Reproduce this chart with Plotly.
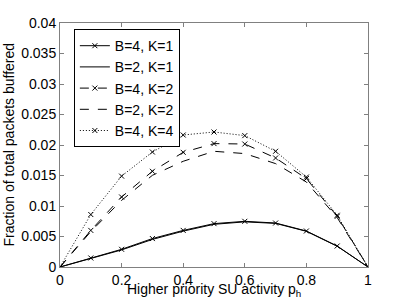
import plotly.graph_objects as go

p_h = [0, 0.1, 0.2, 0.3, 0.4, 0.5, 0.6, 0.7, 0.8, 0.9, 1.0]

b4_k1 = [0, 0.00148, 0.0029, 0.00466, 0.0060, 0.00711, 0.00749, 0.00721, 0.0059, 0.00344, 0]
b2_k1 = [0, 0.00142, 0.0028, 0.00452, 0.00588, 0.00700, 0.00740, 0.00715, 0.00585, 0.0034, 0]
b4_k2 = [0, 0.0060, 0.01148, 0.01569, 0.0188, 0.02023, 0.02016, 0.01787, 0.01449, 0.0083, 0]
b2_k2 = [0, 0.0058, 0.01093, 0.01503, 0.01733, 0.01897, 0.01859, 0.01695, 0.01393, 0.0081, 0]
b4_k4 = [0, 0.0086, 0.0149, 0.01885, 0.02164, 0.02213, 0.02154, 0.01897, 0.01475, 0.00848, 0]

y_ticks = [0, 0.005, 0.01, 0.015, 0.02, 0.025, 0.03, 0.035, 0.04]
y_tick_text = ["0", "0.005", "0.01", "0.015", "0.02", "0.025", "0.03", "0.035", "0.04"]
x_ticks = [0, 0.2, 0.4, 0.6, 0.8, 1]
x_tick_text = ["0", "0.2", "0.4", "0.6", "0.8", "1"]

x_title = "Higher priority SU activity p<sub>h</sub>"
y_title = "Fraction of total packets buffered"

series = [
    ("B=4, K=1", b4_k1, "solid", True),
    ("B=2, K=1", b2_k1, "solid", False),
    ("B=4, K=2", b4_k2, "dash", True),
    ("B=2, K=2", b2_k2, "dash", False),
    ("B=4, K=4", b4_k4, "1px,2px", True),
]

fig = go.Figure()
for name, ys, dash, mk in series:
    fig.add_trace(go.Scatter(
        x=p_h, y=ys, name=name,
        mode="lines+markers" if mk else "lines",
        line=dict(color="black", width=1, dash=dash),
        marker=dict(symbol="x-thin", size=5, color="black",
                    line=dict(color="black", width=1)),
    ))

axis_common = dict(
    showgrid=False, zeroline=False, showline=True, mirror="ticks",
    linecolor="#808080", linewidth=1, ticks="inside", ticklen=4,
    tickcolor="#808080", tickfont=dict(size=14, color="black"),
    automargin=False,
)

fig.update_layout(
    width=407, height=306,
    margin=dict(l=60, r=39, t=23, b=39),
    paper_bgcolor="white", plot_bgcolor="white",
    font=dict(family="Liberation Sans, Arial, sans-serif", size=14, color="black"),
    xaxis=dict(range=[0, 1], tickvals=x_ticks, ticktext=x_tick_text, **axis_common),
    yaxis=dict(range=[0, 0.04], tickvals=y_ticks, ticktext=y_tick_text, **axis_common),
    legend=dict(x=0.045, y=0.975, xanchor="left", yanchor="top",
                bordercolor="black", borderwidth=1, bgcolor="white",
                font=dict(size=14), tracegroupgap=0, itemwidth=30),
    showlegend=True,
    annotations=[
        dict(text=x_title, xref="paper", yref="paper", x=0.5, y=-0.05,
             xanchor="center", yanchor="top", showarrow=False,
             font=dict(size=14)),
        dict(text=y_title, xref="paper", yref="paper", x=-0.167, y=0.5,
             xanchor="center", yanchor="middle", showarrow=False, textangle=-90,
             font=dict(size=14)),
    ],
)

fig.write_html("out.html",
               config={"displayModeBar": False},
               post_script="document.body.style.margin='0';document.body.style.overflow='hidden';")
